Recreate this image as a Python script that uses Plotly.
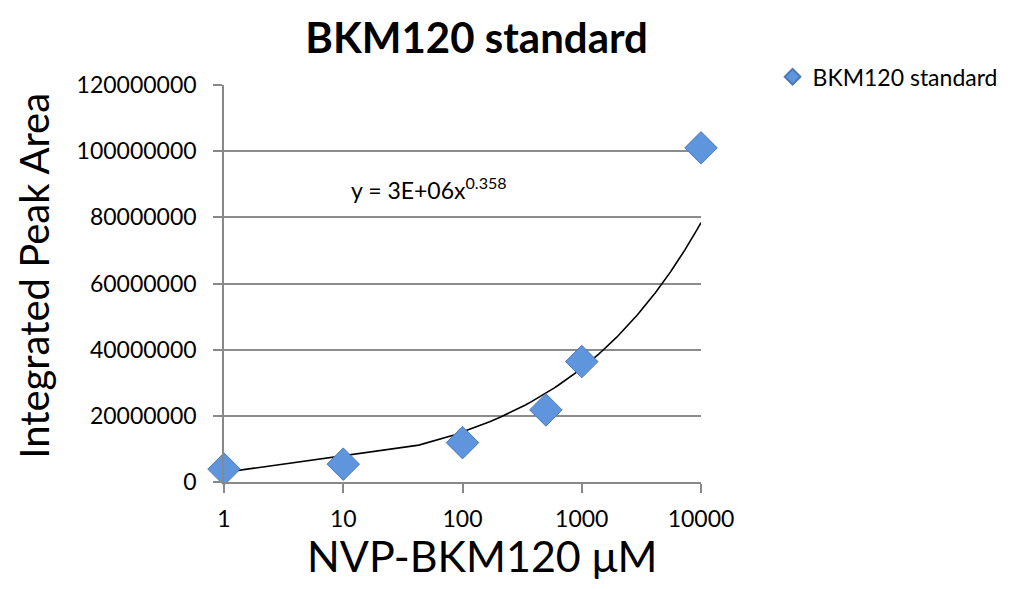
import numpy as np
import plotly.graph_objects as go

# Data
concentration_uM = [1, 10, 100, 500, 1000, 10000]
peak_area = [3.9e6, 5.4e6, 11.9e6, 21.8e6, 36.4e6, 101e6]
series_name = "BKM120 standard"

# Displayed power trendline y = a * x^b
trend_a = 2.9e6
trend_b = 0.358
trend_label = "y = 3E+06x<sup>0.358</sup>"

x_ticks = [1, 10, 100, 1000, 10000]
x_ticktext = ["1", "10", "100", "1000", "10000"]
y_ticks = [0, 20000000, 40000000, 60000000, 80000000, 100000000, 120000000]
y_ticktext = [str(v) for v in y_ticks]

FONT = "Lato, 'Open Sans', sans-serif"

# Trendline sampled linearly in x (as spreadsheet trendlines are)
tx = np.linspace(1, 10000, 239)
ty = trend_a * tx ** trend_b

fig = go.Figure()
fig.add_trace(go.Scatter(
    x=tx, y=ty, mode="lines",
    line=dict(color="black", width=1.6),
    showlegend=False, hoverinfo="skip"))
fig.add_trace(go.Scatter(
    x=concentration_uM, y=peak_area, mode="markers", name=series_name,
    cliponaxis=False,
    marker=dict(symbol="diamond", size=25, color="#5f95dc",
                line=dict(color="#4a78b8", width=1))))

fig.update_layout(
    width=1021, height=589,
    margin=dict(l=216, r=328, t=77, b=115),
    paper_bgcolor="white", plot_bgcolor="white",
    font=dict(family=FONT, color="black"),
    title=dict(text="<b>BKM120 standard</b>", x=0.459, xanchor="center",
               y=0.949, yanchor="middle", font=dict(size=42, family=FONT)),
    legend=dict(x=1.15, y=1.075, xanchor="left", yanchor="top",
                font=dict(size=23, family=FONT), itemsizing="constant",
                bgcolor="rgba(0,0,0,0)", tracegroupgap=0),
    xaxis=dict(type="log", range=[0, 4], tickvals=x_ticks, ticktext=x_ticktext,
               showgrid=False, zeroline=False, showline=True, linecolor="#888888",
               linewidth=1.5, ticks="outside", ticklen=9, tickcolor="#888888",
               tickwidth=1.5, tickfont=dict(size=23, family=FONT),
               ticklabelstandoff=7),
    yaxis=dict(range=[0, 120000000], tickvals=y_ticks, ticktext=y_ticktext,
               showgrid=True, gridcolor="#8c8c8c", gridwidth=1.5, zeroline=False,
               showline=True, linecolor="#888888", linewidth=1.5,
               ticks="outside", ticklen=9, tickcolor="#888888", tickwidth=1.5,
               tickfont=dict(size=23, family=FONT), ticklabelstandoff=12),
    annotations=[
        dict(text=trend_label, x=1.045, y=88.8e6, xref="x", yref="y",
             xanchor="left", yanchor="middle", showarrow=False,
             font=dict(size=23, family=FONT)),
        dict(text="NVP-BKM120 \u03bcM", x=0.54, y=-0.186,
             xref="paper", yref="paper", showarrow=False,
             xanchor="center", yanchor="middle",
             font=dict(size=43, family=FONT)),
        dict(text="Integrated Peak Area", x=-0.40, y=0.52, xref="paper", yref="paper",
             textangle=-90, showarrow=False, xanchor="center", yanchor="middle",
             font=dict(size=40, family=FONT)),
    ],
)

fig.write_html("out.html")
